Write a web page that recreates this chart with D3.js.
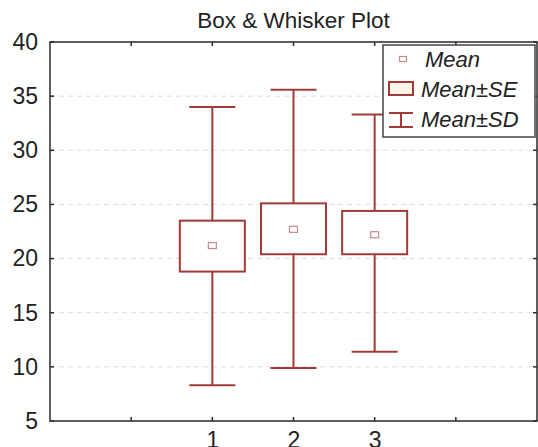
<!DOCTYPE html>
<html>
<head>
<meta charset="utf-8">
<script src="https://cdn.jsdelivr.net/npm/d3@7"></script>
<style>
  body { margin: 0; background: #fff; }
  text { font-family: "Liberation Sans", Arial, sans-serif; }
</style>
</head>
<body>
<script>
// values
var groups = [1, 2, 3];
var means  = [21.2, 22.7, 22.2];
var seLow  = [18.8, 20.4, 20.4];
var seHigh = [23.5, 25.1, 24.4];
var sdLow  = [8.3, 9.9, 11.4];
var sdHigh = [34.0, 35.6, 33.3];
var yTicks = [5, 10, 15, 20, 25, 30, 35, 40];
var xTicks = [0, 1, 2, 3, 4];
var xLabels = [1, 2, 3];
var legendLabels = ["Mean", "Mean\u00b1SE", "Mean\u00b1SD"];

var w = 538;
var h = 447;
var pLeft = 50, pRight = 537, pTop = 42, pBottom = 421;
var red = "#a33a3a";

var svg = d3.select("body")
    .append("svg")
    .attr("width", w)
    .attr("height", h);

var x = d3.scaleLinear().domain([-1, 5]).range([pLeft, pRight]);
var y = d3.scaleLinear().domain([5, 40]).range([pBottom, pTop]);

// grid
svg.selectAll("line.grid")
   .data(yTicks.filter(function(d) { return d > 5 && d < 40; }))
   .enter()
   .append("line")
   .attr("class", "grid")
   .attr("x1", pLeft).attr("x2", pRight)
   .attr("y1", function(d) { return y(d); })
   .attr("y2", function(d) { return y(d); })
   .attr("stroke", "#dcdcdc")
   .attr("stroke-width", 1)
   .attr("stroke-dasharray", "5,4");

// axes, ticks inward
var axisColor = "#2a2a2a";
svg.append("g")
   .attr("transform", "translate(" + pLeft + ",0)")
   .call(d3.axisLeft(y).tickValues(yTicks).tickFormat(d3.format("d")).tickSize(0).tickPadding(12))
   .call(function(g) {
       g.select(".domain").remove();
       g.selectAll("text").attr("font-size", "23px").attr("fill", "#222");
   });

svg.append("g")
   .attr("transform", "translate(0," + pBottom + ")")
   .call(d3.axisBottom(x).tickValues(xLabels).tickFormat(d3.format("d")).tickSize(0).tickPadding(11))
   .call(function(g) {
       g.select(".domain").remove();
       g.selectAll("text").attr("font-size", "23px").attr("fill", "#222");
   });

var ticks = svg.append("g").attr("stroke", axisColor).attr("stroke-width", 1.5);
yTicks.forEach(function(d) {
    ticks.append("line").attr("x1", pLeft).attr("x2", pLeft + 4).attr("y1", y(d)).attr("y2", y(d));
    ticks.append("line").attr("x1", pRight).attr("x2", pRight - 4).attr("y1", y(d)).attr("y2", y(d));
});
xTicks.forEach(function(d) {
    ticks.append("line").attr("x1", x(d)).attr("x2", x(d)).attr("y1", pBottom).attr("y2", pBottom - 4);
    ticks.append("line").attr("x1", x(d)).attr("x2", x(d)).attr("y1", pTop).attr("y2", pTop + 4);
});

svg.append("rect")
   .attr("x", pLeft).attr("y", pTop)
   .attr("width", pRight - pLeft).attr("height", pBottom - pTop)
   .attr("fill", "none")
   .attr("stroke", axisColor)
   .attr("stroke-width", 1.5);

svg.append("text")
   .attr("x", (pLeft + pRight) / 2)
   .attr("y", 28)
   .attr("text-anchor", "middle")
   .attr("font-size", "22.5px")
   .attr("fill", "#222")
   .text("Box & Whisker Plot");

// boxes and whiskers
var boxW = 65, capW = 46;
var g = svg.selectAll("g.box")
   .data(groups)
   .enter()
   .append("g")
   .attr("class", "box");

g.append("line")
   .attr("x1", function(d) { return x(d); })
   .attr("x2", function(d) { return x(d); })
   .attr("y1", function(d, i) { return y(sdHigh[i]); })
   .attr("y2", function(d, i) { return y(sdLow[i]); })
   .attr("stroke", red).attr("stroke-width", 2);

g.selectAll("line.cap")
   .data(function(d, i) { return [[d, sdHigh[i]], [d, sdLow[i]]]; })
   .enter()
   .append("line")
   .attr("class", "cap")
   .attr("x1", function(d) { return x(d[0]) - capW / 2; })
   .attr("x2", function(d) { return x(d[0]) + capW / 2; })
   .attr("y1", function(d) { return y(d[1]); })
   .attr("y2", function(d) { return y(d[1]); })
   .attr("stroke", red).attr("stroke-width", 2);

g.append("rect")
   .attr("x", function(d) { return x(d) - boxW / 2; })
   .attr("y", function(d, i) { return y(seHigh[i]); })
   .attr("width", boxW)
   .attr("height", function(d, i) { return y(seLow[i]) - y(seHigh[i]); })
   .attr("fill", "#fff")
   .attr("stroke", red).attr("stroke-width", 2);

g.append("rect")
   .attr("x", function(d) { return x(d) - 4; })
   .attr("y", function(d, i) { return y(means[i]) - 3; })
   .attr("width", 8).attr("height", 6)
   .attr("fill", "#fff")
   .attr("stroke", "#c98a8a").attr("stroke-width", 1.2);

// legend
var lg = svg.append("g");
lg.append("rect")
   .attr("x", 383).attr("y", 45)
   .attr("width", 152).attr("height", 92)
   .attr("fill", "#fff")
   .attr("stroke", "#444").attr("stroke-width", 1.5);

lg.append("rect")
   .attr("x", 399.5).attr("y", 56.5).attr("width", 7).attr("height", 5)
   .attr("fill", "#fff").attr("stroke", "#c98a8a").attr("stroke-width", 1.2);
lg.append("rect")
   .attr("x", 389).attr("y", 82).attr("width", 24).attr("height", 13)
   .attr("fill", "#fdf6ea").attr("stroke", red).attr("stroke-width", 2);
lg.append("line").attr("x1", 389).attr("x2", 413).attr("y1", 113).attr("y2", 113).attr("stroke", red).attr("stroke-width", 2);
lg.append("line").attr("x1", 389).attr("x2", 413).attr("y1", 127).attr("y2", 127).attr("stroke", red).attr("stroke-width", 2);
lg.append("line").attr("x1", 401).attr("x2", 401).attr("y1", 113).attr("y2", 127).attr("stroke", red).attr("stroke-width", 2);

lg.selectAll("text")
   .data(legendLabels)
   .enter()
   .append("text")
   .attr("x", function(d, i) { return i == 0 ? 425 : 421; })
   .attr("y", function(d, i) { return 67 + i * 30; })
   .attr("font-size", "22px")
   .attr("font-style", "italic")
   .attr("fill", "#222")
   .text(function(d) { return d; });
</script>
</body>
</html>
